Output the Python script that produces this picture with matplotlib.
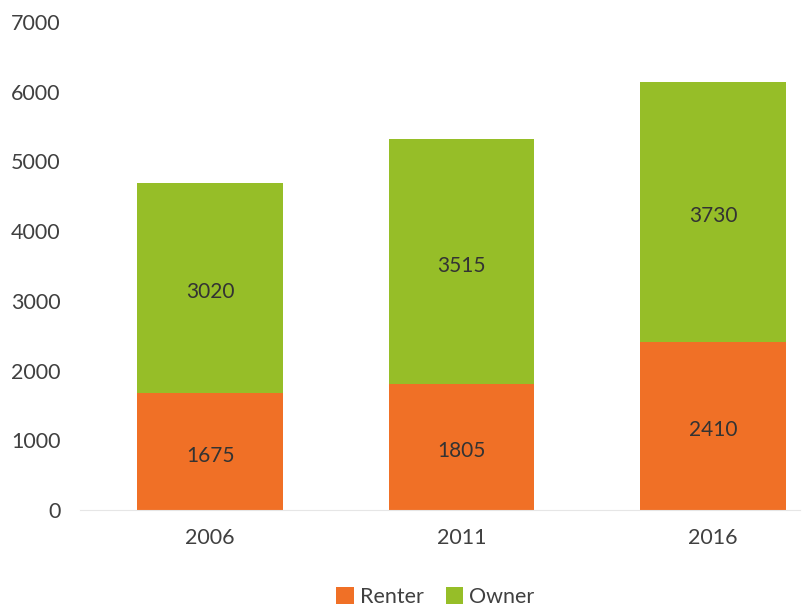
import matplotlib.pyplot as plt

years = ['2006', '2011', '2016']
renter = [1675, 1805, 2410]
owner = [3020, 3515, 3730]

orange = '#F07026'
green = '#96BE28'
txt = '#404040'

plt.rcParams['font.family'] = ['Lato', 'DejaVu Sans']

fig = plt.figure(figsize=(8.02, 6.09), dpi=100)
ax = fig.add_axes([80 / 802, 99 / 609, 720 / 802, 488 / 609])

x = range(len(years))
w = 0.58
ax.bar(x, renter, w, color=orange, label='Renter')
ax.bar(x, owner, w, bottom=renter, color=green, label='Owner')

for i in x:
    ax.text(i, renter[i] / 2 - 60, str(renter[i]), ha='center', va='center',
            fontsize=15, color='#333333')
    ax.text(i, renter[i] + owner[i] / 2 - 60, str(owner[i]), ha='center',
            va='center', fontsize=15, color='#333333')

ax.set_xlim(-0.517, 2.346)
ax.set_ylim(0, 7000)
ax.set_yticks(range(0, 7001, 1000))
ax.set_xticks(list(x))
ax.set_xticklabels(years)
ax.tick_params(axis='both', length=0, labelsize=15.5, colors=txt)
ax.tick_params(axis='y', pad=14)
ax.tick_params(axis='x', pad=13)
for s in ['top', 'right', 'left']:
    ax.spines[s].set_visible(False)
ax.spines['bottom'].set_color('#e6e6e6')

fig.legend(loc='center', bbox_to_anchor=(0.543, 1 - 597 / 609), ncol=2,
           frameon=False, fontsize=15.5, labelcolor=txt, handlelength=0.8,
           handleheight=0.8, handletextpad=0.3, columnspacing=1.0)

fig.savefig('out.png', dpi=100)
